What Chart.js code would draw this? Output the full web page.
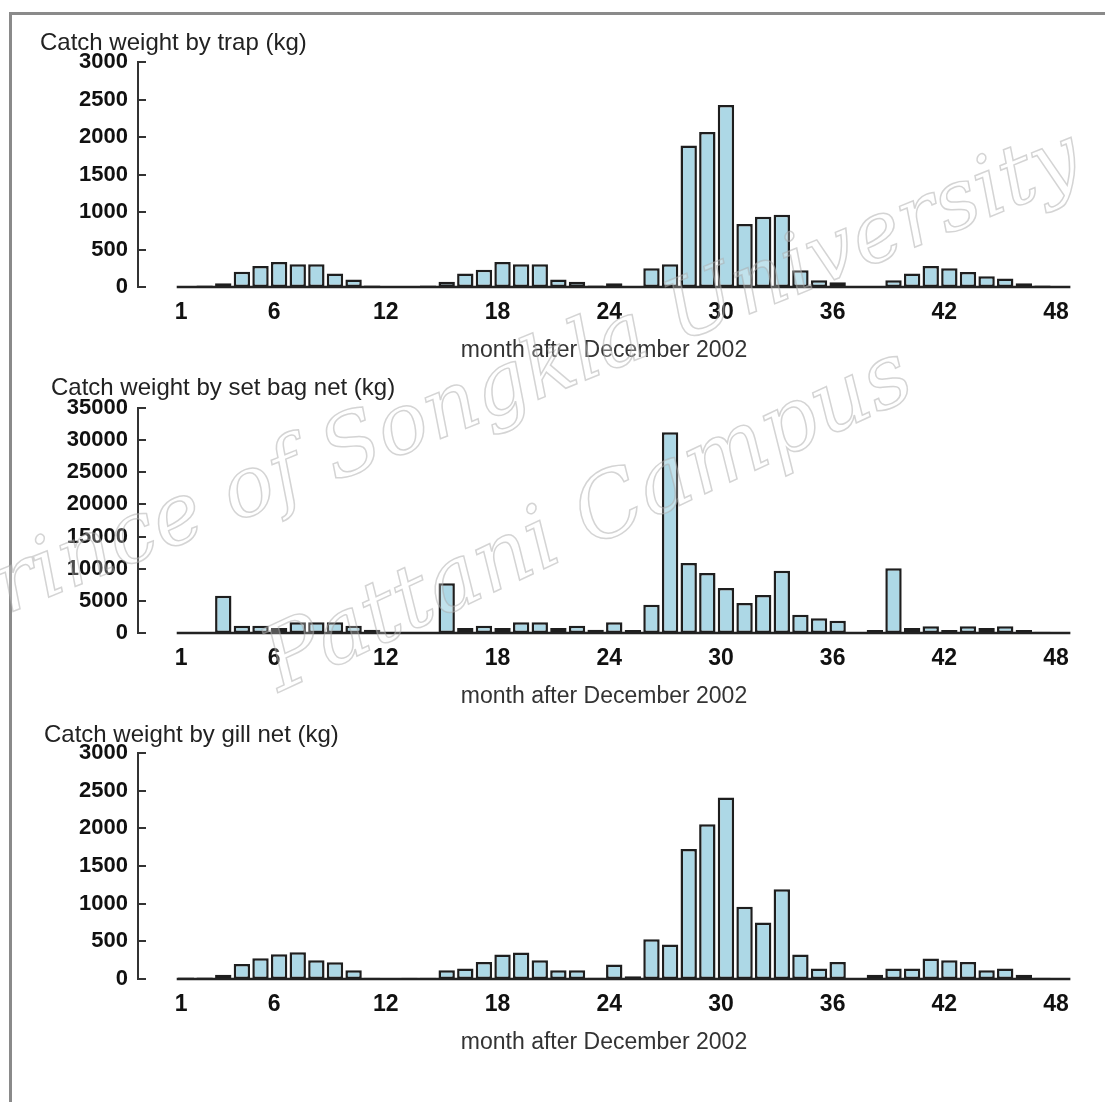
<!DOCTYPE html>
<html>
<head>
<meta charset="utf-8">
<title>Catch weight by gear</title>
<script src="https://cdn.jsdelivr.net/npm/chart.js@4/dist/chart.umd.min.js"></script>
<style>
    body { margin: 0; background: #fff; width: 1105px; height: 1102px; overflow: hidden; position: relative; }
    .frame { position: absolute; left: 9px; top: 12px; width: 1200px; height: 1200px; border: 3px solid #8a8a8a; box-sizing: border-box; }
    canvas { position: absolute; left: 0; }
    .wm { position: absolute; white-space: nowrap; pointer-events: none; font-family: 'DejaVu Serif', serif; font-style: italic;
          color: rgba(255,255,255,0.25); -webkit-text-stroke: 1.5px rgba(170,170,170,0.5); transform-origin: 0 100%; line-height: 1; }
</style>
</head>
<body>
<div class="frame"></div>
<canvas id="cTrap" width="1105" height="364" style="top:0"></canvas>
<canvas id="cBag" width="1105" height="346" style="top:364px"></canvas>
<canvas id="cGill" width="1105" height="346" style="top:710px"></canvas>
<div class="wm" style="left:-40px; top:563px; font-size:84px; transform: rotate(-22deg);">Prince of Songkla University</div>
<div class="wm" style="left:285px; top:617px; font-size:88px; transform: rotate(-25deg);">Pattani Campus</div>

<script>
// month after December 2002
const months = [1, 2, 3, 4, 5, 6, 7, 8, 9, 10, 11, 12, 13, 14, 15, 16, 17, 18, 19, 20, 21, 22, 23, 24,
    25, 26, 27, 28, 29, 30, 31, 32, 33, 34, 35, 36, 37, 38, 39, 40, 41, 42, 43, 44, 45, 46, 47, 48];
const tickMonths = [1, 6, 12, 18, 24, 30, 36, 42, 48];

// catch weight (kg)
const trapKg = [10, 20, 50, 205, 280, 335, 305, 305, 180, 100, 20, 5, 5, 20, 70, 180, 230, 335, 305, 305, 100, 70, 20, 50,
    15, 250, 305, 1890, 2070, 2430, 840, 940, 965, 225, 90, 65, 5, 15, 90, 180, 280, 250, 200, 145, 115, 50, 20, 5];
const setBagKg = [100, 100, 5800, 1140, 1140, 780, 1660, 1660, 1660, 1140, 520, 50, 100, 100, 7730, 780, 1140, 780, 1660, 1660, 780, 1140, 520, 1660,
    470, 4410, 31240, 10900, 9340, 7000, 4670, 5920, 9700, 2850, 2280, 1920, 0, 470, 10070, 780, 1040, 470, 1040, 780, 1040, 470, 200, 50];
const gillKg = [20, 20, 58, 200, 275, 330, 355, 249, 222, 115, 18, 3, 15, 15, 115, 138, 226, 324, 351, 249, 115, 115, 18, 191,
    36, 528, 457, 1727, 2055, 2410, 959, 750, 1190, 324, 138, 226, 3, 58, 138, 138, 271, 249, 226, 115, 138, 58, 18, 3];

const FONT = "'Liberation Sans', Arial, sans-serif";

// inward y ticks and the bar baseline, placed with the chart's own scales
const axisMarks = {
    id: 'axisMarks',
    afterDraw(chart) {
        const ctx = chart.ctx;
        const xs = chart.scales.x;
        const ys = chart.scales.y;
        ctx.save();
        ctx.strokeStyle = '#333';
        ctx.lineWidth = 2;
        ys.ticks.forEach((t) => {
            const py = Math.round(ys.getPixelForValue(t.value));
            ctx.beginPath();
            ctx.moveTo(ys.right, py);
            ctx.lineTo(ys.right + 8, py);
            ctx.stroke();
        });
        const y0 = Math.round(ys.getPixelForValue(0));
        ctx.strokeStyle = '#222';
        ctx.lineWidth = 2.5;
        ctx.beginPath();
        ctx.moveTo(xs.getPixelForValue(months[0] - 0.5), y0);
        ctx.lineTo(xs.getPixelForValue(months[months.length - 1] + 0.5), y0);
        ctx.stroke();
        ctx.restore();
    }
};

function drawPanel(canvasId, title, values, yMax, yStep, padLeft, padTop, titleGap) {
    const points = months.map((m, i) => ({ x: m, y: values[i] }));
    return new Chart(document.getElementById(canvasId), {
        type: 'bar',
        data: {
            datasets: [{
                data: points,
                backgroundColor: '#add8e6',
                borderColor: '#1e1e1e',
                borderWidth: 2.5,
                borderSkipped: false,
                barPercentage: 0.88,
                categoryPercentage: 1
            }]
        },
        options: {
            responsive: false,
            animation: false,
            devicePixelRatio: 1,
            layout: { padding: { left: padLeft, top: padTop, right: 35, bottom: 0 } },
            plugins: {
                legend: { display: false },
                tooltip: { enabled: false },
                title: {
                    display: true,
                    text: title,
                    align: 'start',
                    color: '#222',
                    font: { family: FONT, size: 24, weight: 'normal' },
                    padding: { top: 0, bottom: titleGap }
                }
            },
            scales: {
                x: {
                    type: 'linear',
                    min: -1.58,
                    max: 48.48,
                    offset: false,
                    grid: { display: false, drawTicks: false, offset: false },
                    border: { display: false },
                    afterBuildTicks: (scale) => {
                        scale.ticks = tickMonths.map((v) => ({ value: v }));
                    },
                    afterFit: (scale) => { scale.height = 77; },
                    ticks: {
                        autoSkip: false,
                        maxRotation: 0,
                        padding: 12,
                        labelOffset: -5,
                        color: '#111',
                        font: { family: FONT, size: 23, weight: 'bold' },
                        callback: (v) => String(v)
                    },
                    title: {
                        display: true,
                        text: 'month after December 2002',
                        color: '#333',
                        font: { family: FONT, size: 23, weight: 'normal' },
                        padding: 0
                    }
                },
                y: {
                    min: 0,
                    max: yMax,
                    grid: { display: false, drawTicks: false },
                    border: { display: true, color: '#333', width: 2 },
                    afterFit: (scale) => { scale.width = 138 - padLeft; },
                    ticks: {
                        stepSize: yStep,
                        padding: 10,
                        color: '#111',
                        font: { family: FONT, size: 22, weight: 'bold' },
                        callback: (v) => String(v)
                    }
                }
            }
        },
        plugins: [axisMarks]
    });
}

drawPanel('cTrap', 'Catch weight by trap (kg)', trapKg, 3000, 500, 40, 29, 4.6);
drawPanel('cBag', 'Catch weight by set bag net (kg)', setBagKg, 35000, 5000, 51, 9.6, 5.6);
drawPanel('cGill', 'Catch weight by gill net (kg)', gillKg, 3000, 500, 44, 10.6, 3.6);
</script>
</body>
</html>
